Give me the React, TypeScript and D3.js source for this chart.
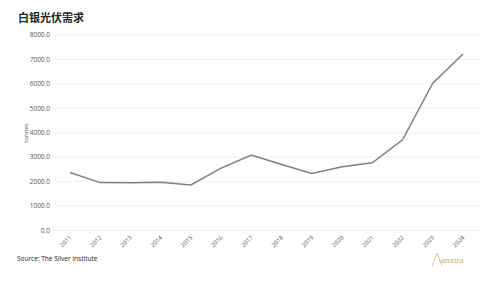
import React from "react";
import * as d3 from "d3";

const years = ["2011","2012","2013","2014","2015","2016","2017","2018","2019","2020","2021","2022","2023","2024"];
const demand = [2370, 1960, 1950, 1975, 1865, 2550, 3090, 2700, 2330, 2610, 2770, 3710, 6030, 7220];
const yTicks = [0, 1000, 2000, 3000, 4000, 5000, 6000, 7000, 8000];

export default function App() {
  const W = 499, H = 281;
  const gridL = 53, gridR = 480;
  const x = d3.scalePoint<string>().domain(years).range([70, 463]);
  const y = d3.scaleLinear().domain([0, 8000]).range([230.5, 35]);
  const line = d3.line<number>().x((_, i) => x(years[i])!).y(d => y(d));
  const font = "'Open Sans', 'Noto Sans', sans-serif";
  return (
    <svg width={W} height={H} style={{ position: "absolute", left: 0, top: 0, background: "#fff" }}>
      <text x={18} y={22} fontSize={11} fontWeight={700} fill="#222" fontFamily="'Noto Sans CJK SC', sans-serif">白银光伏需求</text>
      {yTicks.map(t => (
        <g key={t}>
          <line x1={gridL} x2={gridR} y1={y(t)} y2={y(t)} stroke="#ececec" strokeWidth={0.8} />
          <text x={50} y={y(t) + 2.3} fontSize={6.5} textAnchor="end" fill="#555" fontFamily={font}>{t.toFixed(1)}</text>
        </g>
      ))}
      <text transform={`translate(28,133) rotate(-90)`} fontSize={6} textAnchor="middle" fill="#555" fontFamily={font}>tonnes</text>
      {years.map(yr => (
        <text key={yr} transform={`translate(${x(yr)! + 2},${238}) rotate(-45)`} fontSize={6} textAnchor="end" fill="#555" fontFamily={font}>{yr}</text>
      ))}
      <path d={line(demand)!} fill="none" stroke="#7f7f7f" strokeWidth={1.5} />
      <text x={17} y={261} fontSize={6.5} fill="#222" fontFamily={font}>Source: The Silver Institute</text>
      <g>
        <path d="M432,266 L437,253 L442,266" fill="none" stroke="#d8c38e" strokeWidth={1} />
        <text x={441} y={263} fontSize={9} fill="#c9ae6a" fontFamily="'Liberation Serif', serif">anxtra</text>
      </g>
    </svg>
  );
}
